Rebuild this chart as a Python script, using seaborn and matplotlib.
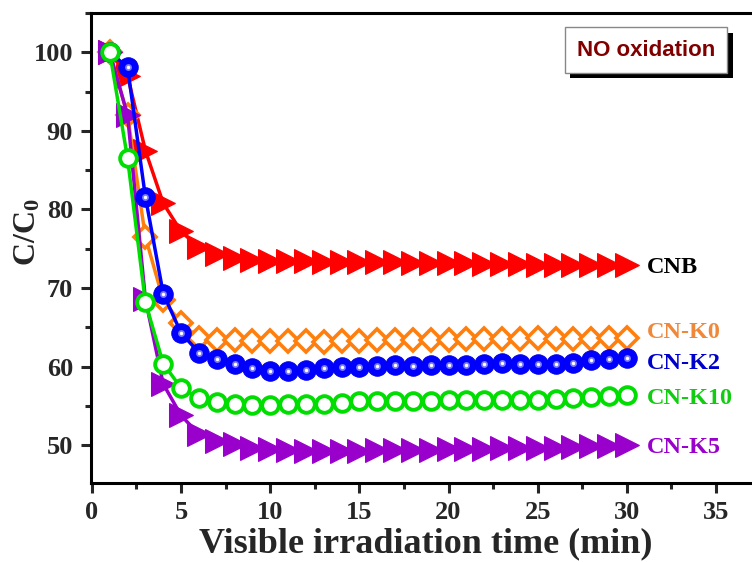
import numpy as np
import pandas as pd
import matplotlib
matplotlib.use("Agg")
import matplotlib.pyplot as plt
import matplotlib.patheffects as pe
from matplotlib.ticker import MultipleLocator
import seaborn as sns

time_min = list(range(1, 31))
cnb = [100, 97.0, 87.5, 80.8, 77.2, 75.2, 74.3, 73.8, 73.6, 73.5, 73.4, 73.4, 73.3, 73.3, 73.3,
       73.3, 73.3, 73.2, 73.2, 73.2, 73.2, 73.1, 73.1, 73.1, 73.0, 73.0, 73.0, 73.0, 72.9, 72.9]
cn_k0 = [100, 92.0, 76.5, 68.5, 65.5, 63.7, 63.4, 63.4, 63.3, 63.3, 63.3, 63.3, 63.2, 63.3, 63.3,
         63.4, 63.4, 63.4, 63.4, 63.4, 63.5, 63.5, 63.5, 63.5, 63.6, 63.5, 63.5, 63.5, 63.6, 63.6]
cn_k2 = [100, 98.1, 81.6, 69.3, 64.3, 61.8, 61.0, 60.4, 59.8, 59.5, 59.4, 59.6, 59.8, 60.0, 60.0,
         60.1, 60.2, 60.1, 60.2, 60.2, 60.2, 60.3, 60.5, 60.3, 60.3, 60.4, 60.5, 60.8, 61.0, 61.1]
cn_k10 = [100, 86.5, 68.2, 60.4, 57.3, 56.0, 55.5, 55.2, 55.1, 55.1, 55.2, 55.3, 55.3, 55.4, 55.6,
          55.6, 55.6, 55.6, 55.6, 55.7, 55.7, 55.7, 55.7, 55.8, 55.8, 55.9, 56.0, 56.1, 56.3, 56.4]
cn_k5 = [100, 92.0, 68.6, 57.8, 53.8, 51.4, 50.6, 50.1, 49.7, 49.5, 49.4, 49.3, 49.3, 49.3, 49.3,
         49.4, 49.4, 49.4, 49.4, 49.5, 49.5, 49.5, 49.6, 49.6, 49.7, 49.7, 49.8, 49.9, 49.9, 50.0]

labels = ["CNB", "CN-K0", "CN-K2", "CN-K10", "CN-K5"]
x_ticks = [0, 5, 10, 15, 20, 25, 30, 35]
y_ticks = [50, 60, 70, 80, 90, 100]

sns.set_style("ticks")
plt.rcParams['font.family'] = ['Liberation Serif', 'DejaVu Serif']
plt.rcParams['font.weight'] = 'bold'
plt.rcParams['mathtext.fontset'] = 'custom'
plt.rcParams['mathtext.rm'] = 'Liberation Serif:bold'
plt.rcParams['mathtext.bf'] = 'Liberation Serif:bold'
plt.rcParams['mathtext.it'] = 'Liberation Serif:bold'

fig = plt.figure(figsize=(7.52, 5.62), dpi=100)
ax = fig.add_axes([91 / 752, 79 / 562, (760.6 - 91) / 752, (483 - 13) / 562])

lw = 2.5
# CNB
sns.lineplot(x=time_min, y=cnb, ax=ax, color='#FF0000', lw=lw, marker='>', markersize=17,
             markeredgecolor='#FF0000', markerfacecolor='#FF0000', zorder=2)
# CN-K0
sns.lineplot(x=time_min, y=cn_k0, ax=ax, color='#FF7F0E', lw=lw, marker='D', markersize=11,
             markeredgecolor='#FF7F0E', markerfacecolor='white', markeredgewidth=2.6, zorder=3)
# CN-K5
sns.lineplot(x=time_min, y=cn_k5, ax=ax, color='#9900CC', lw=lw, marker='>', markersize=17,
             markeredgecolor='#9900CC', markerfacecolor='#9900CC', zorder=4)
# CN-K2 (shaded spheres)
sns.lineplot(x=time_min, y=cn_k2, ax=ax, color='#0000FF', lw=lw, marker='o', markersize=14,
             markeredgecolor='#0000EE', markerfacecolor='#0000FF', zorder=5)
sns.lineplot(x=time_min, y=cn_k2, ax=ax, color='#0000FF', lw=0, marker='o', markersize=5,
             markeredgewidth=0, markerfacecolor='#7777FF', zorder=6)
sns.lineplot(x=time_min, y=cn_k2, ax=ax, color='#0000FF', lw=0, marker='o', markersize=2.5,
             markeredgewidth=0, markerfacecolor='white', zorder=7)
# CN-K10
sns.lineplot(x=time_min, y=cn_k10, ax=ax, color='#00DD00', lw=lw, marker='o', markersize=12,
             markeredgecolor='#00DD00', markerfacecolor='white', markeredgewidth=2.8, zorder=8)

ax.set_xlim(-0.05, 37.5)
ax.set_ylim(45.2, 105)
ax.set_xticks(x_ticks)
ax.set_yticks(y_ticks)
ax.xaxis.set_minor_locator(MultipleLocator(2.5))
ax.yaxis.set_minor_locator(MultipleLocator(5))
ax.tick_params(axis='both', which='major', direction='out', length=7, width=2.2,
               labelsize=19, pad=6)
ax.tick_params(axis='both', which='minor', direction='out', length=4, width=2.2)
for lab in ax.get_xticklabels() + ax.get_yticklabels():
    lab.set_fontweight('bold')
for s in ax.spines.values():
    s.set_linewidth(2.2)
    s.set_color('black')

ax.set_xlabel("Visible irradiation time (min)", fontsize=26, fontweight='bold', labelpad=2)
ax.set_ylabel("")
fig.text(28 / 752, 1 - 232 / 562, r"$\mathbf{C/C_0}$", fontsize=23, rotation=90,
         ha='center', va='center')

label_colors = ['black', '#F0883A', '#0000CC', '#11CC11', '#9900CC']
label_y = [72.6, 64.3, 60.4, 56.0, 49.7]
for name, c, yy in zip(labels, label_colors, label_y):
    ax.text(31.1, yy, name, color=c, fontsize=17.5, fontweight='bold', va='center', ha='left')

t = fig.text(646 / 752, 1 - 50 / 562, "NO oxidation", ha='center', va='center',
             fontsize=16, fontweight='bold', color='#800000', family='Liberation Sans',
             bbox=dict(boxstyle='square,pad=0.55', facecolor='white', edgecolor='#888888', lw=1),
             zorder=20)
fig.canvas.draw()
t.get_bbox_patch().set_path_effects([
    pe.SimplePatchShadow(offset=(4, -4), shadow_rgbFace='black', alpha=1.0),
    pe.Normal()])

fig.savefig("out.png", dpi=100)
